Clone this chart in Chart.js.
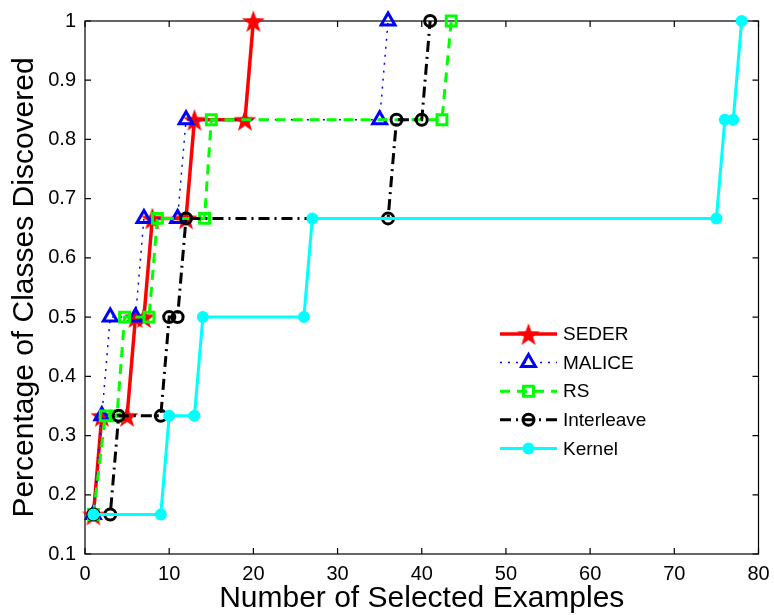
<!DOCTYPE html>
<html><head><meta charset="utf-8">
<script src="https://cdn.jsdelivr.net/npm/chart.js@4/dist/chart.umd.min.js"></script>
<style>html,body{margin:0;padding:0;background:#fff;}</style>
</head><body>
<canvas id="c" width="774" height="615"></canvas>
<script>
// ---- data ----
const seriesNames = ['SEDER', 'MALICE', 'RS', 'Interleave', 'Kernel'];
const sederX = [1, 2, 5, 6, 7, 8, 12, 13, 19, 20];
const sederY = [0.1667, 0.3333, 0.3333, 0.5, 0.5, 0.6667, 0.6667, 0.8333, 0.8333, 1];
const maliceX = [1, 2, 3, 6, 7, 11, 12, 35, 36];
const maliceY = [0.1667, 0.3333, 0.5, 0.5, 0.6667, 0.6667, 0.8333, 0.8333, 1];
const rsX = [1, 2.4, 3.8, 4.7, 7.6, 8.6, 14.2, 15.0, 42.4, 43.5];
const rsY = [0.1667, 0.3333, 0.3333, 0.5, 0.5, 0.6667, 0.6667, 0.8333, 0.8333, 1];
const interleaveX = [1, 3, 4, 9, 10, 11, 12, 36, 37, 40, 41];
const interleaveY = [0.1667, 0.1667, 0.3333, 0.3333, 0.5, 0.5, 0.6667, 0.6667, 0.8333, 0.8333, 1];
const kernelX = [1, 9, 10, 13, 14, 26, 27, 75, 76, 77, 78];
const kernelY = [0.1667, 0.1667, 0.3333, 0.3333, 0.5, 0.5, 0.6667, 0.6667, 0.8333, 0.8333, 1];
const xTickValues = [0, 10, 20, 30, 40, 50, 60, 70, 80];
const xTickLabels = ['0', '10', '20', '30', '40', '50', '60', '70', '80'];
const yTickValues = [0.1, 0.2, 0.3, 0.4, 0.5, 0.6, 0.7, 0.8, 0.9, 1];
const yTickLabels = ['0.1', '0.2', '0.3', '0.4', '0.5', '0.6', '0.7', '0.8', '0.9', '1'];
const xTitle = 'Number of Selected Examples';
const yTitle = 'Percentage of Classes Discovered';

const FONT = 'Liberation Sans, Arial, Helvetica, sans-serif';

function pts(xs, ys) { return xs.map((x, i) => ({x: x, y: ys[i]})); }

// filled 5-point star marker (MATLAB pentagram)
function makeStar(color, R) {
  const c = document.createElement('canvas');
  const s = Math.ceil(R * 2 + 2);
  c.width = s; c.height = s;
  const g = c.getContext('2d');
  const cx = s / 2, cy = s / 2 + R * 0.1, r = R * 0.4;
  g.beginPath();
  for (let k = 0; k < 10; k++) {
    const rad = (k % 2 === 0) ? R : r;
    const a = -Math.PI / 2 + k * Math.PI / 5;
    const px = cx + rad * Math.cos(a), py = cy + rad * Math.sin(a);
    if (k === 0) g.moveTo(px, py); else g.lineTo(px, py);
  }
  g.closePath();
  g.fillStyle = color; g.fill();
  return c;
}
const starImg = makeStar('#ff0000', 12);

const datasets = [
  {label: seriesNames[0], data: pts(sederX, sederY), borderColor: '#ff0000', backgroundColor: '#ff0000',
   borderWidth: 3.5, pointStyle: starImg, pointRadius: 12, order: 4},
  {label: seriesNames[1], data: pts(maliceX, maliceY), borderColor: '#0000ff', backgroundColor: 'rgba(0,0,0,0)',
   borderWidth: 1.5, borderDash: [2, 6], pointStyle: 'triangle', pointRadius: 8, pointBorderWidth: 3,
   pointBorderColor: '#0000ff', order: 3},
  {label: seriesNames[2], data: pts(rsX, rsY), borderColor: '#00ff00', backgroundColor: 'rgba(0,0,0,0)',
   borderWidth: 3, borderDash: [10, 7], pointStyle: 'rect', pointRadius: 7, pointBorderWidth: 3,
   pointBorderColor: '#00ff00', order: 2},
  {label: seriesNames[3], data: pts(interleaveX, interleaveY), borderColor: '#000000', backgroundColor: 'rgba(0,0,0,0)',
   borderWidth: 3, borderDash: [11, 5, 2, 5], pointStyle: 'circle', pointRadius: 5.5, pointBorderWidth: 3,
   pointBorderColor: '#000000', order: 1},
  {label: seriesNames[4], data: pts(kernelX, kernelY), borderColor: '#00ffff', backgroundColor: '#00ffff',
   borderWidth: 3, pointStyle: 'circle', pointRadius: 5, pointBorderWidth: 2,
   pointBorderColor: '#00ffff', pointBackgroundColor: '#00ffff', order: 0}
];
datasets.forEach(d => { d.tension = 0; d.fill = false; d.clip = false; d.pointHoverRadius = d.pointRadius; });

// axes frame with inward ticks on all four sides
const framePlugin = {
  id: 'frame',
  beforeDatasetsDraw(chart) {
    const {ctx, chartArea: a, scales: {x, y}} = chart;
    ctx.save();
    ctx.strokeStyle = '#000'; ctx.lineWidth = 1.2; ctx.setLineDash([]);
    ctx.strokeRect(a.left, a.top, a.right - a.left, a.bottom - a.top);
    const L = 6;
    ctx.beginPath();
    xTickValues.forEach(v => {
      const px = x.getPixelForValue(v);
      ctx.moveTo(px, a.bottom); ctx.lineTo(px, a.bottom - L);
      ctx.moveTo(px, a.top); ctx.lineTo(px, a.top + L);
    });
    yTickValues.forEach(v => {
      const py = y.getPixelForValue(v);
      ctx.moveTo(a.left, py); ctx.lineTo(a.left + L, py);
      ctx.moveTo(a.right, py); ctx.lineTo(a.right - L, py);
    });
    ctx.stroke();
    ctx.restore();
  }
};

// MATLAB-like legend (line sample + marker + text)
const legendPlugin = {
  id: 'mlegend',
  afterDatasetsDraw(chart) {
    const ctx = chart.ctx;
    const x0 = 500, x1 = 557, xm = 528.5, xt = 563, y0 = 334, dy = 28.6;
    datasets.forEach((d, i) => {
      const yy = y0 + i * dy;
      ctx.save();
      ctx.strokeStyle = d.borderColor; ctx.lineWidth = d.borderWidth;
      ctx.setLineDash(d.borderDash || []);
      ctx.beginPath(); ctx.moveTo(x0, yy); ctx.lineTo(x1, yy); ctx.stroke();
      ctx.setLineDash([]);
      const st = d.pointStyle, r = d.pointRadius;
      if (typeof st !== 'string') {
        ctx.drawImage(st, xm - st.width / 2, yy - st.height / 2);
      } else {
        ctx.lineWidth = d.pointBorderWidth; ctx.strokeStyle = d.pointBorderColor;
        ctx.beginPath();
        if (st === 'triangle') {
          let a = 0;
          ctx.moveTo(xm + Math.sin(a) * r, yy - Math.cos(a) * r);
          a += 2 * Math.PI / 3; ctx.lineTo(xm + Math.sin(a) * r, yy - Math.cos(a) * r);
          a += 2 * Math.PI / 3; ctx.lineTo(xm + Math.sin(a) * r, yy - Math.cos(a) * r);
          ctx.closePath();
        } else if (st === 'rect') {
          const s = r * Math.SQRT1_2; ctx.rect(xm - s, yy - s, 2 * s, 2 * s);
        } else {
          ctx.arc(xm, yy, r, 0, Math.PI * 2);
        }
        if (d.pointBackgroundColor) { ctx.fillStyle = d.pointBackgroundColor; ctx.fill(); }
        ctx.stroke();
      }
      ctx.fillStyle = '#000'; ctx.font = '19px ' + FONT;
      ctx.textBaseline = 'middle'; ctx.textAlign = 'left';
      ctx.fillText(d.label, xt, yy + 1);
      ctx.restore();
    });
  }
};

new Chart(document.getElementById('c'), {
  type: 'line',
  data: {datasets: datasets},
  options: {
    responsive: false, animation: false, devicePixelRatio: 1,
    layout: {padding: {top: 21, right: 12, left: 0, bottom: 0}},
    plugins: {legend: {display: false}, tooltip: {enabled: false}},
    scales: {
      x: {
        type: 'linear', min: 0, max: 80,
        afterBuildTicks: s => { s.ticks = xTickValues.map(v => ({value: v})); },
        afterFit: s => { s.height = 61; s.paddingLeft = 0; s.paddingRight = 0; },
        grid: {display: false, drawTicks: false},
        border: {display: false},
        ticks: {color: '#000', font: {family: FONT, size: 20}, padding: 8, maxRotation: 0,
                callback: (v, i) => xTickLabels[i]},
        title: {display: true, text: xTitle, color: '#000', font: {family: FONT, size: 30},
                padding: {top: 0, bottom: -2}}
      },
      y: {
        type: 'linear', min: 0.1, max: 1,
        afterBuildTicks: s => { s.ticks = yTickValues.map(v => ({value: v})); },
        afterFit: s => { s.width = 85; s.paddingTop = 0; s.paddingBottom = 0; },
        grid: {display: false, drawTicks: false},
        border: {display: false},
        ticks: {color: '#000', font: {family: FONT, size: 20}, padding: 9,
                callback: (v, i) => yTickLabels[i]},
        title: {display: true, text: yTitle, color: '#000', font: {family: FONT, size: 30},
                padding: {top: 7, bottom: 0}}
      }
    }
  },
  plugins: [framePlugin, legendPlugin]
});
</script>
</body></html>
